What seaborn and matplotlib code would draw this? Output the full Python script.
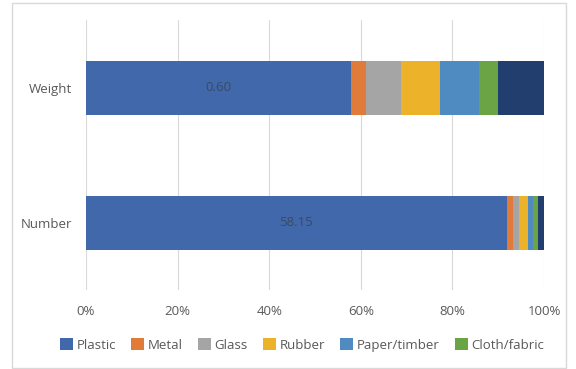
import matplotlib
matplotlib.use("Agg")
import matplotlib.pyplot as plt
import seaborn as sns
import pandas as pd
import numpy as np
from matplotlib.patches import Patch, Rectangle

categories = ["Weight", "Number"]
materials = ["Plastic", "Metal", "Glass", "Rubber", "Paper/timber", "Cloth/fabric", "Other"]
plastic = [57.9, 91.9]
metal = [3.2, 1.4]
glass = [7.7, 1.3]
rubber = [8.5, 2.0]
paper = [8.6, 1.1]
cloth = [4.1, 1.0]
other = [10.0, 1.3]
bar_labels = ["0.60", "58.15"]
xticks = [0, 20, 40, 60, 80, 100]
xtick_labels = ["0%", "20%", "40%", "60%", "80%", "100%"]
colors = ["#4068AA", "#E07B39", "#A5A5A5", "#EBB22A", "#4F8BC0", "#6AA444", "#213E6E"]
legend_items = materials[:6]

sns.set_theme(style="white")
plt.rcParams["font.family"] = ["Open Sans", "DejaVu Sans"]

series = [plastic, metal, glass, rubber, paper, cloth, other]
rows = []
for m, vals in zip(materials, series):
    for c, v in zip(categories, vals):
        rows.append({"material": m, "category": c, "value": v})
df = pd.DataFrame(rows)
wide = df.pivot(index="category", columns="material", values="value").loc[categories, materials]
cum = wide.cumsum(axis=1)

fig = plt.figure(figsize=(5.76, 3.69), dpi=100)
ax = fig.add_axes([86 / 576, 1 - 290 / 369, (544 - 86) / 576, 270 / 369])

for m, col in reversed(list(zip(materials, colors))):
    d = pd.DataFrame({"category": categories, "cum": cum[m].values})
    sns.barplot(data=d, y="category", x="cum", order=categories, color=col,
                width=0.4, ax=ax, saturation=1, edgecolor="none", linewidth=0, zorder=3)

plastic_centers = (cum["Plastic"].values) / 2
for i, (lab, xc) in enumerate(zip(bar_labels, plastic_centers)):
    ax.text(xc, i, lab, ha="center", va="center", fontsize=9.5, color="#3A4A66", zorder=5)

ax.set_xlim(0, 100)
ax.set_xticks(xticks)
ax.set_xticklabels(xtick_labels)
ax.set_xlabel("")
ax.set_ylabel("")
ax.grid(axis="x", color="#D9D9D9", linewidth=0.8, zorder=0)
ax.grid(axis="y", visible=False)
for s in ax.spines.values():
    s.set_visible(False)
ax.tick_params(axis="x", length=0, pad=11, labelsize=9.5, labelcolor="#595959")
ax.tick_params(axis="y", length=0, pad=10, labelsize=9.5, labelcolor="#595959")

handles = [Patch(facecolor=c, edgecolor="none") for c in colors[:6]]
fig.legend(handles, legend_items, loc="center", bbox_to_anchor=(302 / 576, 1 - 345 / 369),
           ncol=6, frameon=False, fontsize=9.5, handlelength=1.0, handleheight=1.0,
           handletextpad=0.25, columnspacing=1.15, labelcolor="#595959")

fig.patches.append(Rectangle((12 / 576, 0.002), (566 - 12) / 576, 1 - 3 / 369 - 0.002,
                             transform=fig.transFigure, fill=False,
                             edgecolor="#D9D9D9", linewidth=1))

fig.savefig("out.png", dpi=100)
